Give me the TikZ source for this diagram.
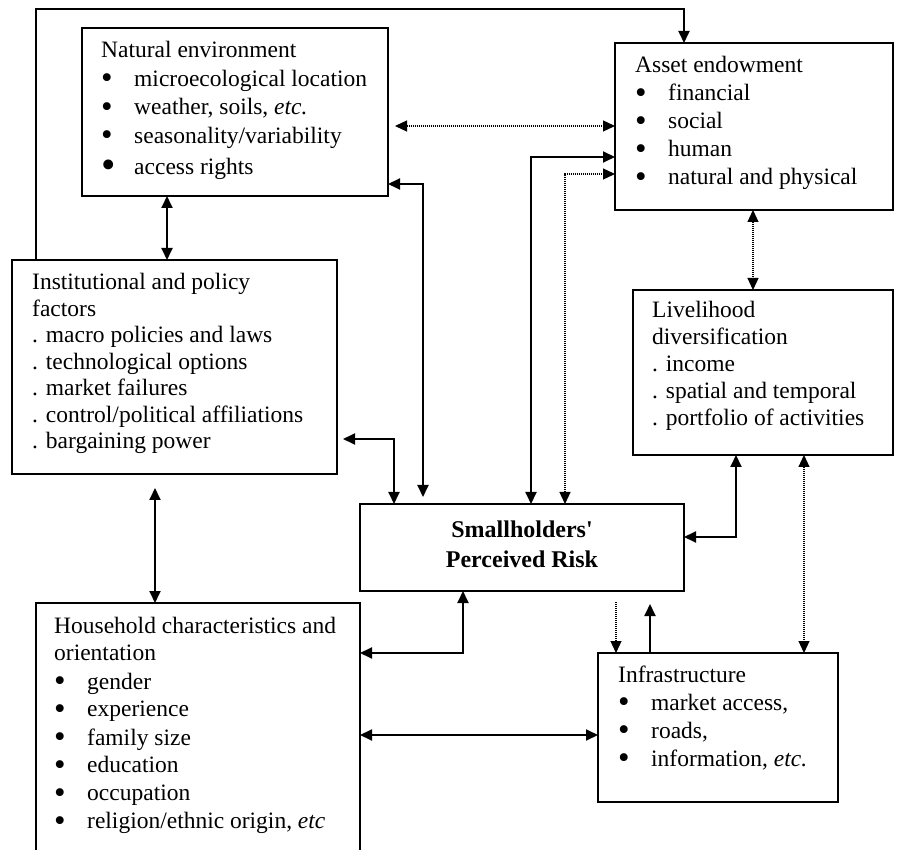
\documentclass[tikz,border=0pt]{standalone}
\usepackage{fontspec}
\setmainfont{Liberation Serif}
\usepackage{graphicx}
\usetikzlibrary{arrows.meta}
\newcommand\txtrows[2]{\vtop{\baselineskip=#1\lineskiplimit=-30pt\lineskip=0pt\halign{##\hfil\cr#2\crcr}}}
\newcommand\ctrrows[2]{\vtop{\baselineskip=#1\lineskiplimit=-30pt\lineskip=0pt\halign{\hfil##\hfil\cr#2\crcr}}}
\newcommand\bul{\makebox[33pt][l]{\raisebox{-2.2pt}{\scalebox{1.4}{\textbullet}}}}
\newcommand\bigbul{\makebox[33pt][l]{\raisebox{-3.5pt}{\scalebox{1.75}{\textbullet}}}}
\begin{document}
\begin{tikzpicture}[x=1pt,y=-1pt,
  box/.style={draw, line width=1.9pt, rectangle, inner sep=0pt, outer sep=0pt},
  txt/.style={anchor=base west, inner sep=0pt, font=\fontsize{23.5}{28}\selectfont},
  conn/.style={line width=1.9pt, >={Triangle[length=12pt,width=11pt]}},
  dotc/.style={line width=1.2pt, dash pattern=on 1pt off 1pt, >={Triangle[length=12pt,width=11pt]}}]
\useasboundingbox (0,0) rectangle (898,850);
\fill[white] (0,0) rectangle (898,850);
\clip (0,0) rectangle (898,850);

% boxes
\node[box, minimum width=306pt, minimum height=168pt] (ne) at (235,112) {};
\node[box, minimum width=278pt, minimum height=167pt] (ae) at (754,126.5) {};
\node[box, minimum width=325pt, minimum height=214pt] (inst) at (174.5,367) {};
\node[box, minimum width=260pt, minimum height=165pt] (live) at (763,372.5) {};
\node[box, minimum width=324pt, minimum height=87pt] (risk) at (522,547.5) {};
\node[box, minimum width=324pt, minimum height=277pt] (hh) at (198,741.5) {};
\node[box, minimum width=240pt, minimum height=149pt] (infra) at (718,727.5) {};

% texts
\node[txt] (net) at (101,58) {\txtrows{28.5pt}{Natural environment\cr
\bul microecological location\cr
\bul weather, soils, \textit{etc.}\cr
\bul seasonality/variability\cr
\noalign{\vskip3pt}
\bigbul access rights\cr}};

\node[txt] (aet) at (635,73) {\txtrows{28pt}{Asset endowment\cr
\bul financial\cr
\bul social\cr
\bul human\cr
\bul natural and physical\cr}};

\node[txt] (instt) at (32,290) {\txtrows{26.5pt}{Institutional and policy\cr
factors\cr
. macro policies and laws\cr
. technological options\cr
. market failures\cr
. control/political affiliations\cr
. bargaining power\cr}};

\node[txt] (livet) at (652,318) {\txtrows{27pt}{Livelihood\cr
diversification\cr
. income\cr
. spatial and temporal\cr
. portfolio of activities\cr}};

\node[anchor=base, inner sep=0pt, font=\fontsize{24}{30}\bfseries\selectfont] (riskt) at (522,537) {\ctrrows{30pt}{Smallholders\textquotesingle\cr Perceived Risk\cr}};

\node[txt] (hht) at (54,633) {\txtrows{28pt}{Household characteristics and\cr
orientation\cr
\bul gender\cr
\bul experience\cr
\bul family size\cr
\bul education\cr
\bul occupation\cr
\bul religion/ethnic origin, \textit{etc}\cr}};

\node[txt] (infrat) at (618,682) {\txtrows{28pt}{Infrastructure\cr
\bul market access,\cr
\bul roads,\cr
\bul information, \textit{etc.}\cr}};

% connectors
\draw[conn,->] (inst.north -| 36,0) -- (36,9) -- (684,9) -- (ae.north -| 684,0);
\draw[conn,<->] (ne.south -| 167,0) -- (inst.north -| 167,0);
\draw[dotc,<->, shorten <=7pt] (ne.east |- 0,126) -- (ae.west |- 0,126);
\draw[conn,<->, shorten >=7pt] (ne.east |- 0,184) -- (423,184) -- (risk.north -| 423,0);
\draw[conn,<->, shorten <=6pt] (inst.east |- 0,439) -- (394,439) -- (risk.north -| 394,0);
\draw[conn,<->] (risk.north -| 531,0) -- (531,157) -- (ae.west |- 0,157);
\draw[dotc,<->] (risk.north -| 565,0) -- (565,174) -- (ae.west |- 0,174);
\draw[dotc,<->] (ae.south -| 753,0) -- (live.north -| 753,0);
\draw[conn,<->] (live.south -| 736,0) -- (736,537) -- (risk.east |- 0,537);
\draw[dotc,<->] (live.south -| 804,0) -- (infra.north -| 804,0);
\draw[dotc,->, shorten <=11pt] (risk.south -| 616,0) -- (infra.north -| 616,0);
\draw[conn,->, shorten >=13pt] (infra.north -| 650,0) -- (risk.south -| 650,0);
\draw[conn,<->] (hh.east |- 0,653) -- (463,653) -- (risk.south -| 463,0);
\draw[conn,<->] (hh.east |- 0,735) -- (infra.west |- 0,735);
\draw[conn,<->, shorten <=14pt] (inst.south -| 155,0) -- (hh.north -| 155,0);
\end{tikzpicture}
\end{document}
